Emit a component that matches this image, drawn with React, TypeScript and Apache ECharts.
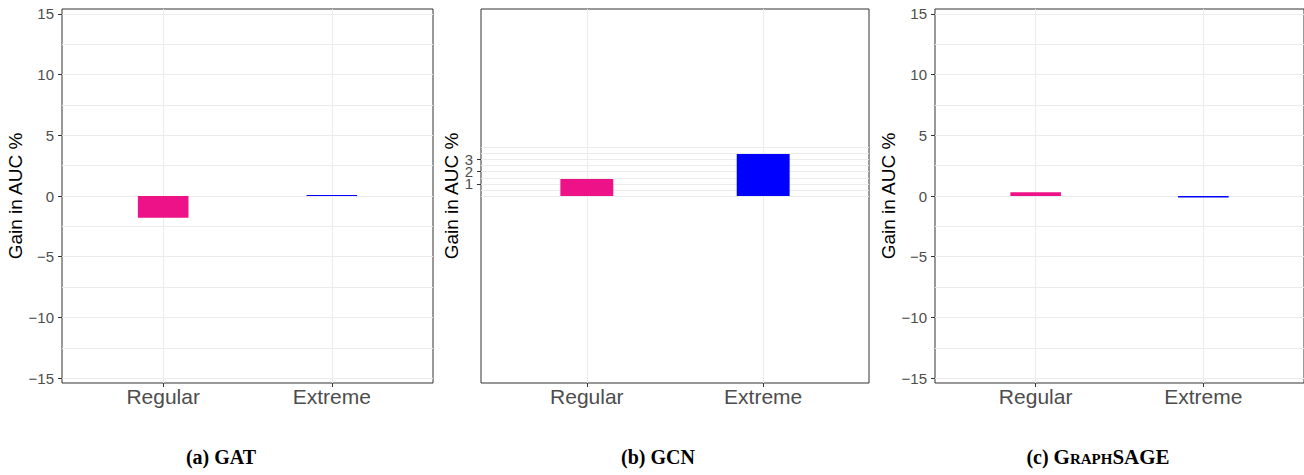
import React, { useEffect, useRef } from "react";
import * as echarts from "echarts";

// ---- data ----
const categories = ["Regular", "Extreme"];
const categoryPositions = [1, 2];
const gatValues = [-1.8, 0.08];
const gcnValues = [1.4, 3.45];
const sageValues = [0.3, -0.12];
const barColors = ["#EE1289", "#0000FF"];
const captionPrefixes = ["(a) ", "(b) ", "(c) "];
const captionNames = ["GAT", "GCN", "GraphSAGE"];
const yTicksWide = [-15, -10, -5, 0, 5, 10, 15];
const yMinorWide = [-12.5, -7.5, -2.5, 2.5, 7.5, 12.5];
const yTicksGcn = [1, 2, 3];
const yGridGcn = [0, 0.5, 1, 1.5, 2, 2.5, 3, 3.5, 4];
const yAxisTitle = "Gain in AUC %";

// ---- layout / style ----
const Y_MIN = -15.4;
const Y_MAX = 15.4;
const X_MIN = 0.4;
const X_MAX = 2.6;
const TOP = 9;
const HEIGHT = 374;
const panels = [
  { left: 62, width: 371, values: gatValues, ticks: yTicksWide, grid: [...yTicksWide, ...yMinorWide], nameGap: 32, captionX: 221, smallCaps: false, dense: false },
  { left: 481, width: 388, values: gcnValues, ticks: yTicksGcn, grid: yGridGcn, nameGap: 17, captionX: 658, smallCaps: false, dense: true },
  { left: 935, width: 371, values: sageValues, ticks: yTicksWide, grid: [...yTicksWide, ...yMinorWide], nameGap: 32, captionX: 1098, smallCaps: true, dense: false },
];
const SANS = "'Liberation Sans', Arial, sans-serif";
const SERIF = "'Liberation Serif', 'Times New Roman', serif";
const GRID_COLOR = "#EBEBEB";
const TEXT_GREY = "#4D4D4D";
const DARK = "#333333";

const fmtNum = (v: number) => (v < 0 ? "\u2212" + Math.abs(v) : String(v));

const yLabelStyle = {
  formatter: (v: number) => fmtNum(v),
  fontSize: 15,
  color: TEXT_GREY,
  fontFamily: SANS,
  margin: 8,
  hideOverlap: false,
  showMinLabel: true,
  showMaxLabel: true,
};

export default function App() {
  const ref = useRef<HTMLDivElement>(null);
  useEffect(() => {
    document.body.style.margin = "0";
    if (!ref.current) return;
    const chart = echarts.init(ref.current, null, { renderer: "svg" });

    const grids: any[] = [];
    const xAxes: any[] = [];
    const yAxes: any[] = [];
    const extraYAxes: any[] = [];
    const series: any[] = [];
    const graphics: any[] = [];

    panels.forEach((p, i) => {
      grids.push({
        left: p.left,
        top: TOP,
        width: p.width,
        height: HEIGHT,
        show: true,
        borderColor: DARK,
        borderWidth: 1,
        backgroundColor: "#fff",
      });
      xAxes.push({
        gridIndex: i,
        type: "value",
        min: X_MIN,
        max: X_MAX,
        splitLine: { show: false },
        axisLine: { show: false, onZero: false },
        axisTick: { show: true, length: 4, lineStyle: { color: DARK }, customValues: categoryPositions },
        axisLabel: {
          customValues: categoryPositions,
          formatter: (v: number) => categories[categoryPositions.indexOf(v)] ?? "",
          fontSize: 21,
          color: TEXT_GREY,
          fontFamily: SANS,
          margin: 3,
          hideOverlap: false,
        },
      });
      // when labels are tightly packed, split them across two overlaid axes so none gets hidden
      const mainLabels = p.dense ? p.ticks.filter((_, k) => k % 2 === 0) : p.ticks;
      const altLabels = p.dense ? p.ticks.filter((_, k) => k % 2 === 1) : [];
      yAxes.push({
        gridIndex: i,
        type: "value",
        position: "left",
        min: Y_MIN,
        max: Y_MAX,
        splitLine: { show: false },
        axisLine: { show: false, onZero: false },
        axisTick: { show: true, length: 4, lineStyle: { color: DARK }, customValues: p.ticks },
        axisLabel: { ...yLabelStyle, customValues: mainLabels },
        name: yAxisTitle,
        nameLocation: "middle",
        nameRotate: 90,
        nameGap: p.nameGap,
        nameTextStyle: { fontSize: 19, color: "#000", fontFamily: SANS },
      });
      if (altLabels.length) {
        extraYAxes.push({
          gridIndex: i,
          type: "value",
          position: "left",
          offset: 0,
          min: Y_MIN,
          max: Y_MAX,
          splitLine: { show: false },
          axisLine: { show: false, onZero: false },
          axisTick: { show: false, customValues: altLabels },
          axisLabel: { ...yLabelStyle, customValues: altLabels },
        });
      }
      const bw = (p.width / (X_MAX - X_MIN)) * 0.3;
      series.push({
        type: "bar",
        xAxisIndex: i,
        yAxisIndex: i,
        barWidth: bw,
        z: 3,
        silent: true,
        data: p.values.map((v, j) => ({
          value: [categoryPositions[j], v],
          itemStyle: { color: barColors[j] },
        })),
        markLine: {
          z: 1,
          silent: true,
          symbol: "none",
          label: { show: false },
          emphasis: { disabled: true },
          lineStyle: { color: GRID_COLOR, type: "solid", width: 1 },
          data: [
            ...p.grid.map((v) => ({ yAxis: v })),
            ...categoryPositions.map((x) => ({ xAxis: x })),
          ],
        },
      });
      graphics.push({
        type: "text",
        x: p.captionX,
        y: 457,
        style: {
          text: captionPrefixes[i] + "{n|" + captionNames[i] + "}",
          font: "bold 20px " + SERIF,
          fill: "#000",
          textAlign: "center",
          textVerticalAlign: "middle",
          rich: {
            n: {
              font: (p.smallCaps ? "bold small-caps 21px " : "bold 20px ") + SERIF,
              fill: "#000",
            },
          },
        },
      });
    });

    chart.setOption({
      animation: false,
      backgroundColor: "#fff",
      grid: grids,
      xAxis: xAxes,
      yAxis: [...yAxes, ...extraYAxes],
      series,
      graphic: graphics,
    });
    return () => chart.dispose();
  }, []);
  return <div ref={ref} style={{ width: 1304, height: 475 }} />;
}
